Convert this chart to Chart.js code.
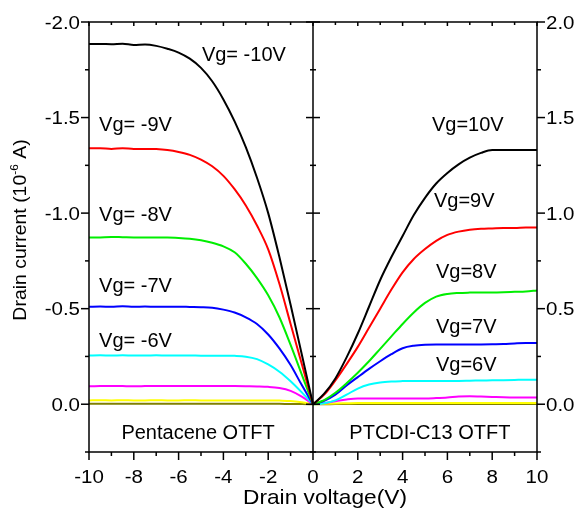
<!DOCTYPE html>
<html>
<head>
<meta charset="utf-8">
<script src="https://cdn.jsdelivr.net/npm/chart.js@4.4.1/dist/chart.umd.min.js"></script>
<style>
  html, body { margin: 0; padding: 0; background: #fff; }
  #wrap { width: 578px; height: 510px; }
</style>
</head>
<body>
<div id="wrap"><canvas id="c" width="578" height="510"></canvas></div>
<script>
// ---- Data (drain current in 10^-6 A) ----
const vdLeft  = [-10,-9.5,-9,-8.5,-8,-7.5,-7,-6.5,-6,-5.5,-5,-4.5,-4,-3.5,-3,-2.5,-2,-1.5,-1,-0.5,0];
const vdRight = [0,0.5,1,1.5,2,2.5,3,3.5,4,4.5,5,5.5,6,6.5,7,7.5,8,8.5,9,9.5,10];

// Pentacene OTFT (p-type, negative currents)
const pentVgM10 = [-1.885,-1.885,-1.884,-1.886,-1.880,-1.882,-1.875,-1.860,-1.840,-1.808,-1.760,-1.690,-1.595,-1.480,-1.345,-1.185,-1.000,-0.770,-0.520,-0.260,0];
const pentVgM9  = [-1.340,-1.340,-1.335,-1.340,-1.335,-1.336,-1.335,-1.330,-1.320,-1.305,-1.280,-1.245,-1.195,-1.125,-1.040,-0.935,-0.810,-0.630,-0.420,-0.210,0];
const pentVgM8  = [-0.872,-0.873,-0.875,-0.874,-0.873,-0.873,-0.872,-0.872,-0.870,-0.866,-0.858,-0.845,-0.826,-0.795,-0.735,-0.660,-0.570,-0.455,-0.310,-0.155,0];
const pentVgM7  = [-0.510,-0.511,-0.510,-0.512,-0.510,-0.511,-0.510,-0.510,-0.510,-0.509,-0.508,-0.505,-0.495,-0.480,-0.455,-0.420,-0.365,-0.292,-0.205,-0.100,0];
const pentVgM6  = [-0.255,-0.256,-0.255,-0.256,-0.255,-0.255,-0.256,-0.255,-0.255,-0.255,-0.254,-0.254,-0.254,-0.253,-0.249,-0.236,-0.208,-0.170,-0.120,-0.062,0];
const pentVgM5  = [-0.094,-0.095,-0.096,-0.095,-0.094,-0.095,-0.096,-0.095,-0.095,-0.096,-0.095,-0.096,-0.096,-0.095,-0.094,-0.093,-0.091,-0.085,-0.070,-0.040,0];
const pentVgM4  = [-0.020,-0.021,-0.020,-0.021,-0.020,-0.020,-0.021,-0.020,-0.020,-0.021,-0.020,-0.020,-0.020,-0.020,-0.020,-0.020,-0.020,-0.019,-0.017,-0.010,0];
const pentVgM3  = [-0.002,-0.002,-0.002,-0.002,-0.002,-0.002,-0.002,-0.002,-0.002,-0.002,-0.002,-0.002,-0.002,-0.002,-0.002,-0.002,-0.002,-0.002,-0.001,-0.001,0];

// PTCDI-C13 OTFT (n-type, positive currents)
const ptcVg10 = [0,0.055,0.135,0.245,0.370,0.510,0.650,0.770,0.880,0.990,1.080,1.155,1.210,1.255,1.290,1.315,1.330,1.330,1.330,1.330,1.330];
const ptcVg9  = [0,0.050,0.125,0.210,0.300,0.400,0.500,0.600,0.690,0.760,0.812,0.855,0.886,0.903,0.913,0.918,0.920,0.922,0.922,0.925,0.925];
const ptcVg8  = [0,0.022,0.060,0.110,0.165,0.225,0.290,0.355,0.420,0.480,0.530,0.563,0.577,0.582,0.584,0.585,0.585,0.586,0.588,0.590,0.595];
const ptcVg7  = [0,0.018,0.050,0.098,0.142,0.185,0.225,0.262,0.293,0.306,0.311,0.312,0.312,0.312,0.312,0.313,0.314,0.315,0.318,0.320,0.320];
const ptcVg6  = [0,0.005,0.020,0.050,0.082,0.103,0.114,0.119,0.121,0.122,0.122,0.122,0.122,0.122,0.123,0.124,0.125,0.126,0.127,0.128,0.128];
const ptcVg5  = [0,0.006,0.016,0.025,0.030,0.030,0.030,0.030,0.030,0.030,0.030,0.032,0.035,0.040,0.042,0.040,0.038,0.036,0.035,0.035,0.035];
const ptcVg4  = [0,0.002,0.004,0.005,0.006,0.006,0.006,0.007,0.007,0.007,0.007,0.007,0.007,0.007,0.007,0.007,0.007,0.007,0.007,0.007,0.007];
const ptcVg3  = [0,0.000,0.001,0.001,0.001,0.001,0.001,0.001,0.001,0.001,0.001,0.001,0.001,0.001,0.001,0.001,0.001,0.001,0.001,0.001,0.001];

// Ticks
const xTicks = [-10,-8,-6,-4,-2,0,2,4,6,8,10];
const xTickLabels = ['-10','-8','-6','-4','-2','0','2','4','6','8','10'];
const yLeftTicks = [-2.0,-1.5,-1.0,-0.5,0.0];
const yLeftLabels = ['-2.0','-1.5','-1.0','-0.5','0.0'];
const yRightTicks = [0.0,0.5,1.0,1.5,2.0];
const yRightLabels = ['0.0','0.5','1.0','1.5','2.0'];

// Text annotations (data coordinates)
const leftNotes = [
  {text:'Vg= -10V', x:-4.96, y:-1.796, align:'left'},
  {text:'Vg= -9V',  x:-9.55, y:-1.429, align:'left'},
  {text:'Vg= -8V',  x:-9.55, y:-0.958, align:'left'},
  {text:'Vg= -7V',  x:-9.55, y:-0.586, align:'left'},
  {text:'Vg= -6V',  x:-9.55, y:-0.298, align:'left'},
  {text:'Pentacene OTFT', x:-5.13, y:0.183, align:'center'}
];
const rightNotes = [
  {text:'Vg=10V', x:5.31, y:1.429, align:'left'},
  {text:'Vg=9V',  x:5.40, y:1.031, align:'left'},
  {text:'Vg=8V',  x:5.49, y:0.660, align:'left'},
  {text:'Vg=7V',  x:5.49, y:0.372, align:'left'},
  {text:'Vg=6V',  x:5.49, y:0.173, align:'left'},
  {text:'PTCDI-C13 OTFT', x:5.22, y:-0.183, align:'center'}
];

const colors = ['#000000','#ff0000','#00ee00','#0000ff','#00ffff','#ff00ff','#ffff00','#808000'];
const pentSeries = [pentVgM10,pentVgM9,pentVgM8,pentVgM7,pentVgM6,pentVgM5,pentVgM4,pentVgM3];
const ptcSeries  = [ptcVg10,ptcVg9,ptcVg8,ptcVg7,ptcVg6,ptcVg5,ptcVg4,ptcVg3];

const FONT = '"Liberation Sans", Arial, sans-serif';

function mk(xs, ys, color, axis) {
  return {
    data: xs.map((v, i) => ({x: v, y: ys[i]})),
    yAxisID: axis,
    borderColor: color,
    backgroundColor: color,
    borderWidth: 2,
    pointRadius: 0,
    fill: false,
    cubicInterpolationMode: 'monotone'
  };
}
const datasets = [];
pentSeries.forEach((s, i) => datasets.push(mk(vdLeft, s, colors[i], 'yL')));
ptcSeries.forEach((s, i) => datasets.push(mk(vdRight, s, colors[i], 'yR')));

function drawText(ctx, s, x, y, size, sx, align) {
  ctx.save();
  ctx.font = size + 'px ' + FONT;
  ctx.textBaseline = 'alphabetic';
  ctx.textAlign = 'left';
  const w = ctx.measureText(s).width * sx;
  let x0 = x;
  if (align === 'center') x0 = x - w / 2;
  else if (align === 'right') x0 = x - w;
  ctx.translate(x0, y);
  ctx.scale(sx, 1);
  ctx.fillStyle = '#000';
  ctx.fillText(s, 0, 0);
  ctx.restore();
}

function mids(arr) {
  const out = [];
  for (let i = 0; i < arr.length - 1; i++) out.push((arr[i] + arr[i + 1]) / 2);
  return out;
}

const framePlugin = {
  id: 'frame',
  afterDatasetsDraw(chart) {
    const ctx = chart.ctx;
    const a = chart.chartArea;
    const xs = chart.scales.x, yl = chart.scales.yL, yr = chart.scales.yR;
    ctx.save();
    ctx.strokeStyle = '#000';
    ctx.lineWidth = 1.5;
    const seg = (x1, y1, x2, y2) => { ctx.beginPath(); ctx.moveTo(x1, y1); ctx.lineTo(x2, y2); ctx.stroke(); };
    ctx.strokeRect(a.left, a.top, a.right - a.left, a.bottom - a.top);
    const xc = xs.getPixelForValue(0);
    seg(xc, a.top, xc, a.bottom);

    // x ticks
    xTicks.forEach(v => {
      const p = xs.getPixelForValue(v);
      seg(p, a.bottom, p, a.bottom + 8);
      seg(p, a.top, p, a.top + 4);
    });
    mids(xTicks).forEach(v => {
      const p = xs.getPixelForValue(v);
      seg(p, a.bottom, p, a.bottom + 4);
      seg(p, a.top, p, a.top + 3);
    });
    // left y ticks
    yLeftTicks.forEach(v => {
      const p = yl.getPixelForValue(v);
      seg(a.left - 8, p, a.left, p);
      seg(xc - 7, p, xc + 7, p);
    });
    mids(yLeftTicks).concat([0.25]).forEach(v => {
      const p = yl.getPixelForValue(v);
      seg(a.left - 4, p, a.left, p);
      seg(xc - 3, p, xc + 3, p);
    });
    // right y ticks
    yRightTicks.forEach(v => {
      const p = yr.getPixelForValue(v);
      seg(a.right, p, a.right + 8, p);
    });
    mids(yRightTicks).concat([-0.25]).forEach(v => {
      const p = yr.getPixelForValue(v);
      seg(a.right, p, a.right + 4, p);
    });
    ctx.restore();

    // tick labels
    const TS = 18, TSX = 1.14;
    xTicks.forEach((v, i) => {
      drawText(ctx, xTickLabels[i], xs.getPixelForValue(v), a.bottom + 31, TS, TSX, 'center');
    });
    yLeftTicks.forEach((v, i) => {
      drawText(ctx, yLeftLabels[i], a.left - 9, yl.getPixelForValue(v) + 6.5, TS, TSX, 'right');
    });
    yRightTicks.forEach((v, i) => {
      drawText(ctx, yRightLabels[i], a.right + 9, yr.getPixelForValue(v) + 6.5, TS, TSX, 'left');
    });

    // annotations
    leftNotes.forEach(n => drawText(ctx, n.text, xs.getPixelForValue(n.x), yl.getPixelForValue(n.y), 20, 1, n.align));
    rightNotes.forEach(n => drawText(ctx, n.text, xs.getPixelForValue(n.x), yr.getPixelForValue(n.y), 20, 1, n.align));

    // x title
    drawText(ctx, 'Drain voltage(V)', (a.left + a.right) / 2 + 12, 504, 21, 1.08, 'center');

    // y title (rotated, with superscript)
    ctx.save();
    ctx.translate(26, 230);
    ctx.rotate(-Math.PI / 2);
    const fs = 18, sx = 1.08;
    ctx.font = fs + 'px ' + FONT;
    const p1 = 'Drain current (10', p3 = ' A)';
    const w1 = ctx.measureText(p1).width * sx;
    const w3 = ctx.measureText(p3).width * sx;
    ctx.font = Math.round(fs * 0.6) + 'px ' + FONT;
    const w2 = ctx.measureText('-6').width * sx;
    const total = w1 + w2 + w3;
    let cx = -total / 2;
    ctx.fillStyle = '#000';
    ctx.textBaseline = 'alphabetic';
    ctx.textAlign = 'left';
    ctx.save(); ctx.translate(cx, 0); ctx.scale(sx, 1); ctx.font = fs + 'px ' + FONT; ctx.fillText(p1, 0, 0); ctx.restore();
    cx += w1;
    ctx.save(); ctx.translate(cx, -fs * 0.45); ctx.scale(sx, 1); ctx.font = Math.round(fs * 0.6) + 'px ' + FONT; ctx.fillText('-6', 0, 0); ctx.restore();
    cx += w2;
    ctx.save(); ctx.translate(cx, 0); ctx.scale(sx, 1); ctx.font = fs + 'px ' + FONT; ctx.fillText(p3, 0, 0); ctx.restore();
    ctx.restore();
  }
};

new Chart(document.getElementById('c'), {
  type: 'line',
  data: { datasets },
  options: {
    responsive: false,
    devicePixelRatio: 1,
    animation: false,
    events: [],
    layout: { padding: { top: 22, left: 0, right: 0, bottom: 0 } },
    plugins: { legend: { display: false }, tooltip: { enabled: false } },
    scales: {
      x: {
        type: 'linear', position: 'bottom', min: -10, max: 10,
        afterBuildTicks: s => { s.ticks = xTicks.map(v => ({value: v})); },
        ticks: { display: false },
        grid: { display: false, drawTicks: false },
        border: { display: false },
        afterFit: s => { s.height = 58; }
      },
      yL: {
        type: 'linear', position: 'left', reverse: true, min: -2.0, max: 0.25,
        afterBuildTicks: s => { s.ticks = yLeftTicks.map(v => ({value: v})); },
        ticks: { display: false },
        grid: { display: false, drawTicks: false },
        border: { display: false },
        afterFit: s => { s.width = 89; }
      },
      yR: {
        type: 'linear', position: 'right', min: -0.25, max: 2.0,
        afterBuildTicks: s => { s.ticks = yRightTicks.map(v => ({value: v})); },
        ticks: { display: false },
        grid: { display: false, drawTicks: false },
        border: { display: false },
        afterFit: s => { s.width = 41; }
      }
    }
  },
  plugins: [framePlugin]
});
</script>
</body>
</html>
